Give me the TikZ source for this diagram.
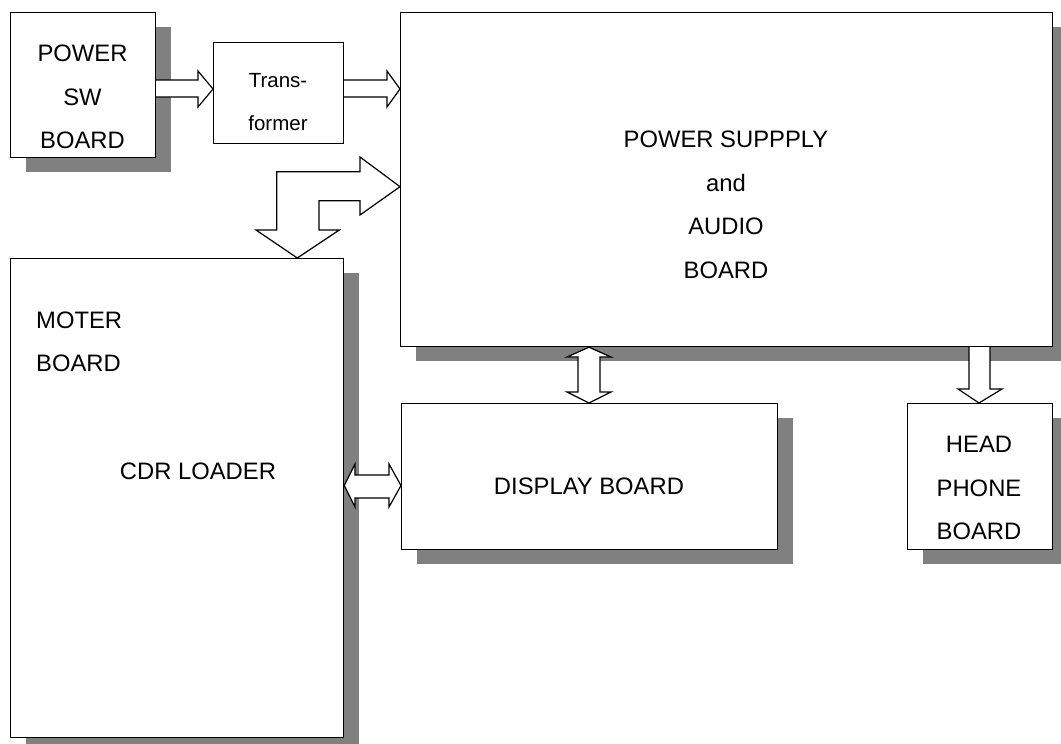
\documentclass[tikz,border=0pt]{standalone}
\usepackage{fontspec}
\setmainfont{Liberation Sans}
\usetikzlibrary{shadows}
\definecolor{shadowgray}{HTML}{808080}
\tikzset{
  board/.style={draw=black, line width=1.2pt, fill=white, inner sep=0pt, anchor=north west,
    drop shadow={shadow xshift=15pt, shadow yshift=-14pt, fill=shadowgray, opacity=1, draw=none}},
  plainboard/.style={draw=black, line width=1.2pt, fill=white, inner sep=0pt, anchor=north west},
  blockarrow/.style={draw=black, line width=1.2pt, fill=white, line join=miter},
  label/.style={inner sep=0pt, align=center, font=\fontsize{23.8}{43.5}\selectfont},
  smalllabel/.style={inner sep=0pt, align=center, font=\fontsize{20.5}{43}\selectfont}
}
\begin{document}
\begin{tikzpicture}[x=1pt, y=-1pt]
\useasboundingbox (0,0) rectangle (1061,744);
% boards
\node[board, minimum width=145pt, minimum height=145pt] (psw) at (10,12) {};
\node[plainboard, minimum width=130pt, minimum height=101pt] (trans) at (213,42) {};
\node[board, minimum width=652pt, minimum height=334pt] (psa) at (400,12) {};
\node[board, minimum width=333pt, minimum height=479pt] (moter) at (10,258) {};
\node[board, minimum width=376pt, minimum height=146pt] (disp) at (401,403) {};
\node[board, minimum width=145pt, minimum height=146pt] (head) at (907,403) {};
% texts
\node[label] (pswtext) at (82.5,97) {POWER\\SW\\BOARD};
\node[smalllabel] (transtext) at (278,102) {Trans-\\former};
\node[label] (psatext) at (726,205) {POWER SUPPPLY\\and\\AUDIO\\BOARD};
\node[label, align=left, anchor=west] (motertext) at (36,342) {MOTER\\BOARD};
\node[label] (cdrtext) at (198,471) {CDR LOADER};
\node[label] (disptext) at (589,486) {DISPLAY BOARD};
\node[label] (headtext) at (979,488) {HEAD\\PHONE\\BOARD};
% arrows
\draw[blockarrow] (psw.east |- 0,80) -- (198,80) -- (198,71) -- (trans.west |- 0,89) -- (198,107) -- (198,97) -- (psw.east |- 0,97);
\draw[blockarrow] (trans.east |- 0,80) -- (387,80) -- (387,71) -- (psa.west |- 0,89) -- (387,107) -- (387,97) -- (trans.east |- 0,97);
\draw[blockarrow] (psa.west |- 0,186.7) -- (360,157) -- (360,171.7) -- (276.7,171.7) -- (276.7,230) -- (256,230)
  -- (297.3,0 |- moter.north) -- (339.3,230) -- (319,230) -- (319,200.7) -- (360,200.7) -- (360,215) -- cycle;
\draw[blockarrow] (589,0 |- psa.south) -- (611,357) -- (600,357) -- (600,392) -- (611,392) -- (589,0 |- disp.north)
  -- (567,392) -- (578,392) -- (578,357) -- (567,357) -- cycle;
\draw[blockarrow] (969,0 |- psa.south) -- (969,389) -- (958,389) -- (979,0 |- head.north) -- (1002,389) -- (990,389) -- (990,0 |- psa.south);
\draw[blockarrow] (moter.east |- 0,485.5) -- (355,464) -- (355,475) -- (389,475) -- (389,464) -- (disp.west |- 0,485.5)
  -- (389,507) -- (389,498) -- (355,498) -- (355,507) -- cycle;
\end{tikzpicture}
\end{document}
